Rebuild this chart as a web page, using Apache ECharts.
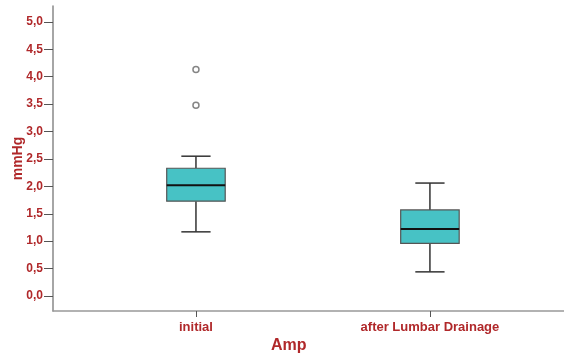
<!DOCTYPE html>
<html>
<head>
<meta charset="utf-8">
<script src="https://cdn.jsdelivr.net/npm/echarts@6/dist/echarts.min.js"></script>
<style>
  html, body { margin: 0; padding: 0; background: #fff; }
  #chart { width: 564px; height: 353px; }
</style>
</head>
<body>
<div id="chart"></div>
<script>
// Box plot of amplitude (mmHg) before and after lumbar drainage
const categories = ['initial', 'after Lumbar Drainage'];
const whiskerLow = [1.17, 0.44];
const q1 = [1.73, 0.96];
const median = [2.02, 1.22];
const q3 = [2.33, 1.57];
const whiskerHigh = [2.55, 2.06];
// outliers: [category index, value]
const outliers = [[0, 4.13], [0, 3.48]];
const yTicks = [0, 0.5, 1, 1.5, 2, 2.5, 3, 3.5, 4, 4.5, 5];

const LABEL_RED = '#b0282a';
const BOX_FRAC = 0.25;      // box width in category units
const WHISKER_FRAC = 0.125; // whisker cap width in category units

const boxData = categories.map((c, i) => [i, whiskerLow[i], q1[i], median[i], q3[i], whiskerHigh[i]]);

const chart = echarts.init(document.getElementById('chart'), null, { renderer: 'canvas' });

chart.setOption({
  animation: false,
  backgroundColor: '#fff',
  grid: { left: 53, right: 0, top: 6, bottom: 42, containLabel: false, outerBoundsMode: 'none' },
  xAxis: {
    type: 'value',
    min: -0.611,
    max: 1.573,
    splitLine: { show: false },
    axisLine: { show: true, onZero: false, lineStyle: { color: '#999', width: 1.5 } },
    axisTick: { show: true, customValues: [0, 1], length: 6, lineStyle: { color: '#555', width: 1 } },
    axisLabel: {
      customValues: [0, 1],
      formatter: v => categories[Math.round(v)],
      color: LABEL_RED,
      fontFamily: 'Liberation Sans, Arial, sans-serif',
      fontWeight: 'bold',
      fontSize: 13,
      margin: 10
    }
  },
  yAxis: {
    type: 'value',
    min: -0.274,
    max: 5.29,
    name: 'mmHg',
    nameLocation: 'middle',
    nameGap: 28,
    nameMoveOverlap: false,
    nameRotate: 90,
    nameTextStyle: {
      color: LABEL_RED,
      fontFamily: 'Liberation Sans, Arial, sans-serif',
      fontWeight: 'bold',
      fontSize: 14
    },
    splitLine: { show: false },
    axisLine: { show: true, onZero: false, lineStyle: { color: '#888', width: 1.5 } },
    axisTick: { show: true, customValues: yTicks, length: 9, lineStyle: { color: '#555', width: 1 } },
    axisLabel: {
      customValues: yTicks,
      formatter: v => v.toFixed(1).replace('.', ','),
      color: LABEL_RED,
      fontFamily: 'Liberation Sans, Arial, sans-serif',
      fontWeight: 'bold',
      fontSize: 12,
      margin: 10
    }
  },
  graphic: [{
    type: 'text',
    left: 271,
    top: 338,
    style: {
      text: 'Amp',
      fill: LABEL_RED,
      font: 'bold 16px "Liberation Sans", Arial, sans-serif'
    }
  }],
  series: [
    {
      type: 'custom',
      data: boxData,
      renderItem: function (params, api) {
        const x = api.value(0);
        const pLow = api.coord([x, api.value(1)]);
        const pQ1 = api.coord([x, api.value(2)]);
        const pMed = api.coord([x, api.value(3)]);
        const pQ3 = api.coord([x, api.value(4)]);
        const pHigh = api.coord([x, api.value(5)]);
        const bw = api.size([BOX_FRAC, 0])[0];
        const ww = api.size([WHISKER_FRAC, 0])[0];
        const cx = pMed[0];
        const whiskerStyle = { stroke: '#333', lineWidth: 1.5, fill: null };
        return {
          type: 'group',
          children: [
            { type: 'line', shape: { x1: cx, y1: pQ3[1], x2: cx, y2: pHigh[1] }, style: whiskerStyle },
            { type: 'line', shape: { x1: cx, y1: pQ1[1], x2: cx, y2: pLow[1] }, style: whiskerStyle },
            { type: 'line', shape: { x1: cx - ww / 2, y1: pHigh[1], x2: cx + ww / 2, y2: pHigh[1] }, style: whiskerStyle },
            { type: 'line', shape: { x1: cx - ww / 2, y1: pLow[1], x2: cx + ww / 2, y2: pLow[1] }, style: whiskerStyle },
            {
              type: 'rect',
              shape: { x: cx - bw / 2, y: pQ3[1], width: bw, height: pQ1[1] - pQ3[1] },
              style: { fill: '#47c2c5', stroke: '#555', lineWidth: 1.2 }
            },
            { type: 'line', shape: { x1: cx - bw / 2, y1: pMed[1], x2: cx + bw / 2, y2: pMed[1] }, style: { stroke: '#111', lineWidth: 2 } }
          ]
        };
      }
    },
    {
      type: 'scatter',
      data: outliers,
      symbol: 'circle',
      symbolSize: 6,
      itemStyle: { color: '#fff', borderColor: '#666', borderWidth: 1.5 }
    }
  ]
});
</script>
</body>
</html>
